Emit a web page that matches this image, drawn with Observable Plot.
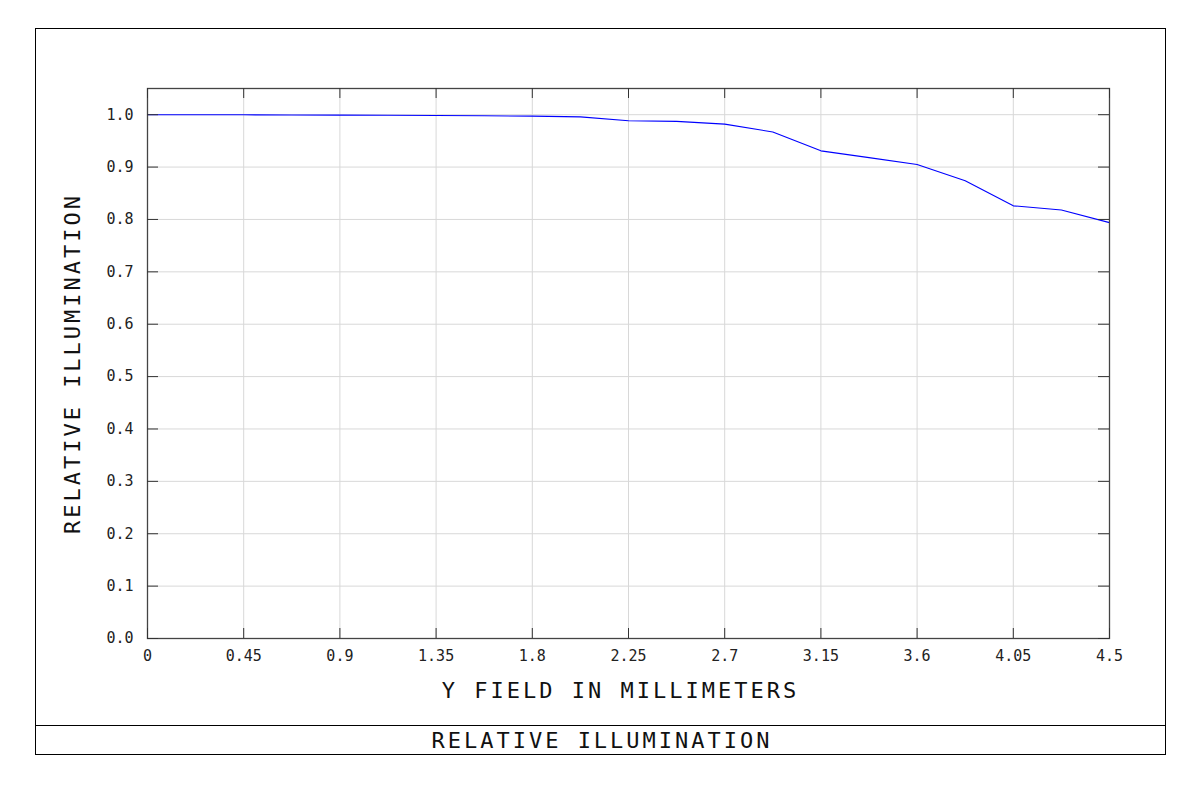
<!DOCTYPE html>
<html><head><meta charset="utf-8">
<script src="https://cdn.jsdelivr.net/npm/d3@7"></script>
<script src="https://cdn.jsdelivr.net/npm/@observablehq/plot@0.6"></script>
<style>
html,body{margin:0;padding:0;background:#fff;}
#wrap{position:relative;width:1200px;height:802px;font-family:"DejaVu Sans Mono",monospace;color:#111;}
#chart{position:absolute;left:0;top:0;}
#frame{position:absolute;left:35px;top:28px;width:1131px;height:727px;border:1px solid #000;box-sizing:border-box;pointer-events:none;}
#title{position:absolute;left:35px;top:725px;width:1131px;height:29px;border-top:1px solid #000;box-sizing:border-box;text-align:center;font-size:22px;letter-spacing:3px;line-height:29px;padding-left:3px;}
</style></head><body>
<div id="wrap"><div id="chart"></div><div id="frame"></div><div id="title">RELATIVE ILLUMINATION</div></div>
<script>
const fieldMm = [0, 0.225, 0.45, 0.675, 0.9, 1.125, 1.35, 1.575, 1.8, 2.025, 2.25, 2.475, 2.7, 2.925, 3.15, 3.375, 3.6, 3.825, 4.05, 4.275, 4.5];
const relIllum = [1.0, 1.0, 0.9998, 0.9995, 0.9992, 0.9988, 0.9984, 0.998, 0.9972, 0.9958, 0.9885, 0.9872, 0.982, 0.967, 0.931, 0.918, 0.905, 0.874, 0.826, 0.818, 0.794];
const xTicks = [0, 0.45, 0.9, 1.35, 1.8, 2.25, 2.7, 3.15, 3.6, 4.05, 4.5];
const xTickLabels = ["0", "0.45", "0.9", "1.35", "1.8", "2.25", "2.7", "3.15", "3.6", "4.05", "4.5"];
const yTicks = [0, 0.1, 0.2, 0.3, 0.4, 0.5, 0.6, 0.7, 0.8, 0.9, 1.0];
const yTickLabels = ["0.0", "0.1", "0.2", "0.3", "0.4", "0.5", "0.6", "0.7", "0.8", "0.9", "1.0"];
const xLabel = "Y FIELD IN MILLIMETERS";
const yLabel = "RELATIVE ILLUMINATION";

const data = fieldMm.map((x, i) => ({x, y: relIllum[i]}));

const svg = Plot.plot({
  width: 1200, height: 725,
  marginLeft: 147, marginRight: 91, marginTop: 88, marginBottom: 87,
  style: {fontFamily: "DejaVu Sans Mono, monospace", background: "transparent", color: "#111"},
  x: {domain: [0, 4.5]},
  y: {domain: [0, 1.05]},
  marks: [
    Plot.gridX(xTicks, {stroke: "#d8d8d8", strokeOpacity: 1}),
    Plot.gridY(yTicks, {stroke: "#d8d8d8", strokeOpacity: 1}),
    Plot.line(data, {x: "x", y: "y", stroke: "#0000ff", strokeWidth: 1.1}),
    Plot.frame({stroke: "#444", strokeWidth: 1.3}),
    Plot.tickY(yTicks, {y: d => d, stroke: "#333", insetRight: 951}),
    Plot.tickY(yTicks, {y: d => d, stroke: "#333", insetLeft: 951}),
    Plot.tickX(xTicks, {x: d => d, stroke: "#333", insetTop: 540}),
    Plot.tickX(xTicks, {x: d => d, stroke: "#333", insetBottom: 540}),
    Plot.axisX(xTicks, {tickSize: 0, tickPadding: 12, tickFormat: (d, i) => xTickLabels[i], label: null, fontSize: 15, fill: "#222"}),
    Plot.axisY(yTicks, {tickSize: 0, tickPadding: 14, tickFormat: (d, i) => yTickLabels[i], label: null, fontSize: 15, fill: "#222"}),
    Plot.text([yLabel], {frameAnchor: "left", dx: -75, rotate: -90, textAnchor: "middle", lineAnchor: "middle", fontSize: 22, fill: "#111"}),
    Plot.text([xLabel], {frameAnchor: "bottom", dy: 52, dx: -8, textAnchor: "middle", lineAnchor: "middle", fontSize: 22, fill: "#111"})
  ]
});
d3.select(svg).selectAll('g[aria-label="text"] text').style("letter-spacing", "3px");
document.getElementById("chart").appendChild(svg);
</script>
</body></html>
